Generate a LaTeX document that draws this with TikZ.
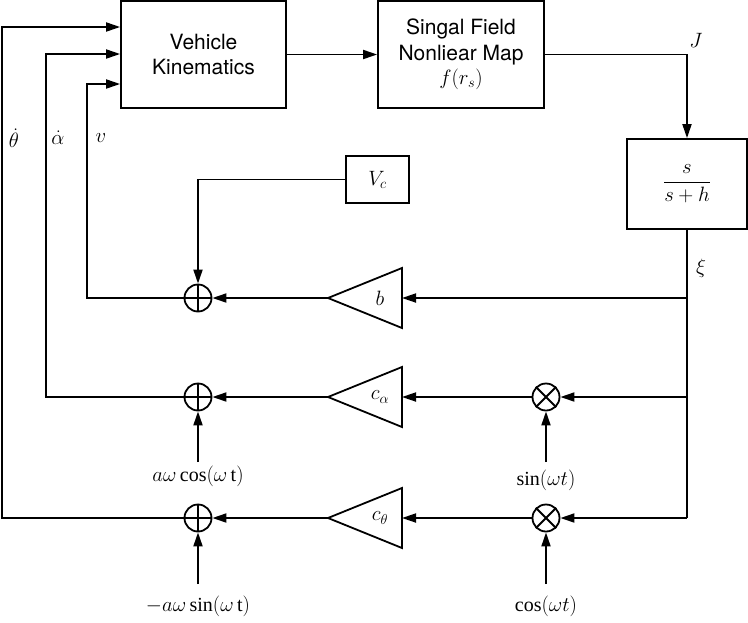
\documentclass[tikz,border=0pt]{standalone}
\usepackage{fontspec}
\setmainfont{Liberation Serif}
\setsansfont{TeX Gyre Heros}
\usetikzlibrary{arrows.meta}
\begin{document}
\begin{tikzpicture}[x=1pt,y=-1pt,
  line width=1.8pt,
  arr/.style={-{Triangle[length=14pt,width=9pt]}},
  blk/.style={draw,rectangle,inner sep=0pt},
  txt/.style={font=\fontsize{20}{25.5}\selectfont},
  sumc/.style={draw,circle,minimum size=27pt,inner sep=0pt},
  tri/.style={line join=miter}]
\useasboundingbox (0,0) rectangle (748,622);
% blocks
\node[blk,minimum width=165pt,minimum height=107pt,align=center,font=\sffamily\fontsize{21}{25}\selectfont] (VK) at (203.5,54.5) {Vehicle\\Kinematics};
\node[blk,minimum width=166pt,minimum height=107pt,align=center,font=\sffamily\fontsize{21}{26}\selectfont] (SF) at (461,54.5) {Singal Field\\Nonliear Map\\[-2pt]$f(r_s)$};
\node[blk,minimum width=120pt,minimum height=90pt,txt] (F) at (687,184) {$\displaystyle\frac{s}{s+h}$};
\node[blk,minimum width=63pt,minimum height=47pt,txt] (Vc) at (377.5,179.5) {$V_c$};
% sums and multipliers
\node[sumc] (s1) at (198,298) {};
\node[sumc] (s2) at (198,397) {};
\node[sumc] (s3) at (198,518) {};
\node[sumc] (m1) at (546,397) {};
\node[sumc] (m2) at (546,518) {};
\foreach \n in {s1,s2,s3}{\draw (\n.north) -- (\n.south) (\n.west) -- (\n.east);}
\foreach \n in {m1,m2}{\draw (\n.north west) -- (\n.south east) (\n.north east) -- (\n.south west);}
% gain triangles
\foreach \n/\y/\l in {b/298/$b$,ca/397/$c_\alpha$,ct/518/$c_\theta$}{
  \coordinate (\n T) at (328,\y);
  \coordinate (\n R) at (402,\y);
  \draw[tri] (\n T) -- (402,\y-30) -- (402,\y+30) -- cycle;
  \node[txt] (\n L) at (380,\y) {\l};
}
% junction coordinates
\coordinate (x1) at (687,298);
\coordinate (x2) at (687,397);
\coordinate (x3) at (687,518);
\coordinate (cv) at (87,84);
\coordinate (ca) at (46,54);
\coordinate (ct) at (2,27);
% labels
\node[txt,inner sep=1pt] (Jl) at (696,40) {$J$};
\node[txt,inner sep=1pt] (xil) at (701,268) {$\xi$};
\node[txt,inner sep=1pt] (thl) at (14,138) {$\dot\theta$};
\node[txt,inner sep=1pt] (all) at (58,138) {$\dot\alpha$};
\node[txt,inner sep=1pt] (vl) at (101,138) {$v$};
\node[txt] (i1) at (198,476) {$a\omega\cos(\omega\,\mathrm{t})$};
\node[txt] (i2) at (198,606) {$-a\omega\sin(\omega\,\mathrm{t})$};
\node[txt] (i3) at (546,480) {$\sin(\omega t)$};
\node[txt] (i4) at (546,606) {$\cos(\omega t)$};
\coordinate (i1t) at (198,462);
\coordinate (i2t) at (198,584);
\coordinate (i3t) at (546,462);
\coordinate (i4t) at (546,584);
% connectors
\draw[arr] (VK.east) -- (SF.west);
\draw[arr] (SF.east) -| (F.north);
\draw (F.south) -- (x3);
\draw[arr] (x1) -- (bR);
\draw[arr] (x2) -- (m1);
\draw[arr] (x3) -- (m2);
\draw[arr] (m1) -- (caR);
\draw[arr] (m2) -- (ctR);
\draw[arr] (bT) -- (s1);
\draw[arr] (caT) -- (s2);
\draw[arr] (ctT) -- (s3);
\draw[arr] (Vc.west) -| (s1.north);
\draw[arr] (i1t) -- (s2.south);
\draw[arr] (i2t) -- (s3.south);
\draw[arr] (i3t) -- (m1.south);
\draw[arr] (i4t) -- (m2.south);
\draw[arr,line join=miter] (s1.west) -| (cv) -- (VK.west |- cv);
\draw[arr,line join=miter] (s2.west) -| (ca) -- (VK.west |- ca);
\draw[arr,line join=miter] (s3.west) -| (ct) -- (VK.west |- ct);
\end{tikzpicture}
\end{document}
